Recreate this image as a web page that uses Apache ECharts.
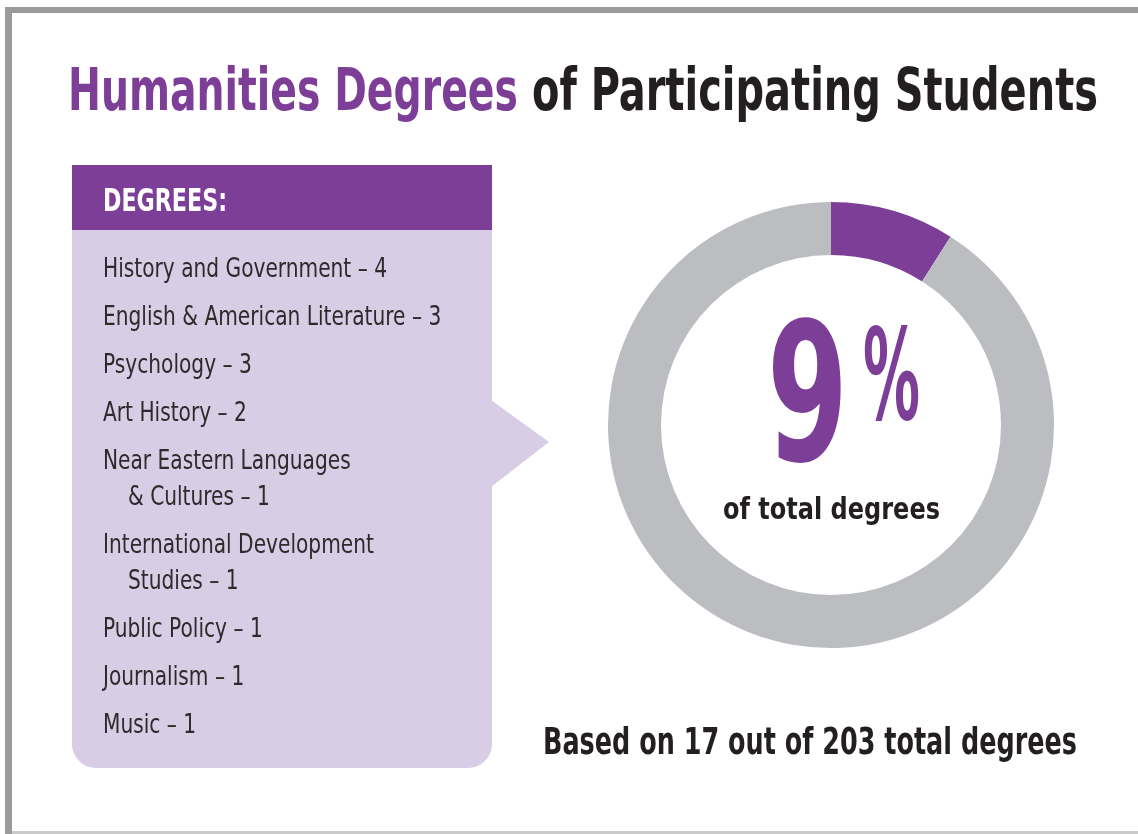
<!DOCTYPE html>
<html>
<head>
<meta charset="utf-8">
<title>Humanities Degrees of Participating Students</title>
<script src="https://cdn.jsdelivr.net/npm/echarts@6/dist/echarts.min.js"></script>
<style>
  html, body { margin: 0; padding: 0; background: #ffffff; }
  #chart { width: 1138px; height: 834px; }
</style>
</head>
<body>
<div id="chart"></div>
<script>
// Degree breakdown (counts per field)
const degreeNames = [
  'History and Government',
  'English & American Literature',
  'Psychology',
  'Art History',
  'Near Eastern Languages\n& Cultures',
  'International Development\nStudies',
  'Public Policy',
  'Journalism',
  'Music'
];
const degreeCounts = [4, 3, 3, 2, 1, 1, 1, 1, 1];

// Share of all degrees shown in the ring
const sharePercent = 9;
const totalDegrees = 203;

const titleParts = ['Humanities Degrees', 'of Participating Students'];
const listHeading = 'DEGREES:';
const ringCaption = 'of total degrees';

const PURPLE = '#7d3e98';
const LAVENDER = '#d9cce5';
const RING_GRAY = '#bcbdc0';
const INK = '#231f20';
const LIST_INK = '#2c2a2b';
const FONT = '"Liberation Sans Narrow", "DejaVu Sans Condensed", "Arial Narrow", sans-serif';

const measureCtx = document.createElement('canvas').getContext('2d');
function measure(text, size, weight) {
  measureCtx.font = weight + ' ' + size + 'px ' + FONT;
  return measureCtx.measureText(text).width;
}
// Left-anchored text placed by the centre of its capitals, optionally squeezed to a width
function textEl(text, x, capMid, size, weight, color, targetW, fixedScale) {
  let sx = 1;
  if (fixedScale) sx = fixedScale;
  else if (targetW) sx = targetW / measure(text, size, weight);
  return {
    type: 'text', x: x, y: capMid + 0.085 * size, scaleX: sx, scaleY: 1, silent: true, z: 20,
    style: {
      text: text, x: 0, y: 0, fill: color,
      font: weight + ' ' + size + 'px ' + FONT,
      align: 'left', verticalAlign: 'middle',
      textAlign: 'left', textVerticalAlign: 'middle'
    }
  };
}

const humanitiesTotal = degreeCounts.reduce((a, b) => a + b, 0);
const graphics = [];

// frame
graphics.push({ type: 'rect', silent: true, z: 1, shape: { x: 5, y: 7, width: 1140, height: 6 }, style: { fill: '#9b9b9b' } });
graphics.push({ type: 'rect', silent: true, z: 1, shape: { x: 5, y: 7, width: 7, height: 830 }, style: { fill: '#9b9b9b' } });
graphics.push({ type: 'rect', silent: true, z: 1, shape: { x: 12, y: 831, width: 1130, height: 3 }, style: { fill: '#c9c9c9' } });

// title
graphics.push(textEl(titleParts[0], 68, 90, 59, 'bold', PURPLE, 450));
graphics.push(textEl(titleParts[1], 532, 90, 59, 'bold', INK, 566));

// list panel
graphics.push({ type: 'rect', silent: true, z: 2, shape: { x: 72, y: 165, width: 420, height: 66 }, style: { fill: PURPLE } });
graphics.push({ type: 'rect', silent: true, z: 2, shape: { x: 72, y: 230, width: 420, height: 538, r: [0, 0, 24, 24] }, style: { fill: LAVENDER } });
graphics.push({ type: 'polygon', silent: true, z: 2, shape: { points: [[491, 400], [549, 442], [491, 487]] }, style: { fill: LAVENDER } });
graphics.push(textEl(listHeading, 103, 200, 32, 'bold', '#ffffff', 124));

// list entries
const listSize = 27;
const firstLine = degreeNames[0] + ' \u2013 ' + degreeCounts[0];
const listScale = 284 / measure(firstLine, listSize, 'normal');
let baseY = 278;
degreeNames.forEach((name, i) => {
  const lines = (name + ' \u2013 ' + degreeCounts[i]).split('\n');
  lines.forEach((ln, j) => {
    if (j > 0) baseY += 36;
    graphics.push(textEl(ln, j === 0 ? 103 : 128, baseY - 10, listSize, 'normal', LIST_INK, null, listScale));
  });
  baseY += 48;
});

// ring centre labels
graphics.push(textEl(String(sharePercent), 767, 394, 192, 'bold', PURPLE, 81));
graphics.push(textEl('%', 863, 375, 127, 'bold', PURPLE, 57));
graphics.push(textEl(ringCaption, 723, 509, 30, 'bold', INK, 217));

// footnote
graphics.push(textEl('Based on ' + humanitiesTotal + ' out of ' + totalDegrees + ' total degrees', 543, 741, 38, 'bold', INK, 534));

const chart = echarts.init(document.getElementById('chart'), null, { renderer: 'canvas' });
chart.setOption({
  backgroundColor: '#ffffff',
  animation: false,
  series: [{
    type: 'pie',
    silent: true,
    center: [831, 425],
    radius: [170, 223],
    startAngle: 90,
    clockwise: true,
    label: { show: false },
    labelLine: { show: false },
    emphasis: { disabled: true },
    data: [
      { name: 'Humanities', value: sharePercent, itemStyle: { color: PURPLE } },
      { name: 'Other', value: 100 - sharePercent, itemStyle: { color: RING_GRAY } }
    ]
  }],
  graphic: graphics
});
</script>
</body>
</html>
